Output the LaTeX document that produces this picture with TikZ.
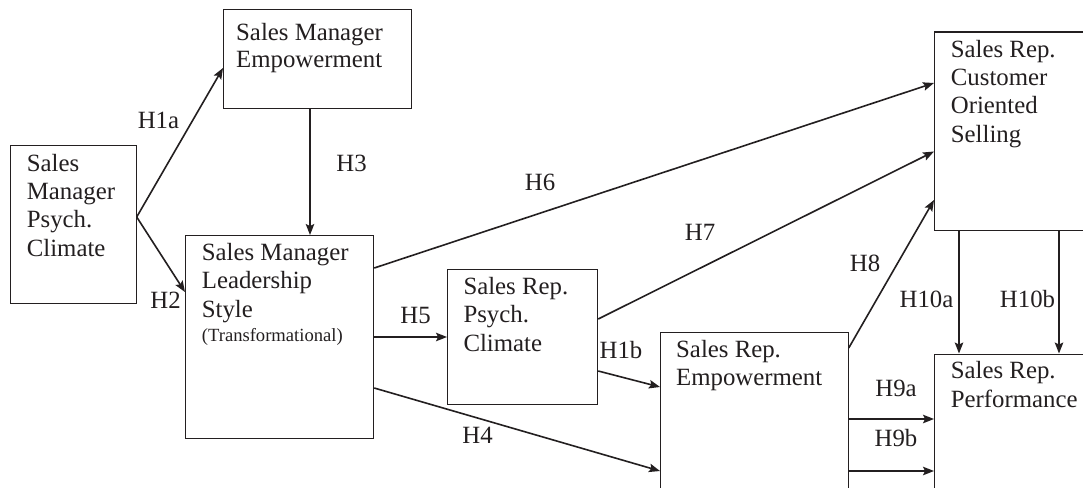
\documentclass[tikz,border=0pt]{standalone}
\usepackage{fontspec}
\setmainfont{Liberation Serif}
\usetikzlibrary{arrows.meta,calc}
\definecolor{ink}{HTML}{231F20}
\begin{document}
\begin{tikzpicture}[x=1pt,y=-1pt,
  box/.style={draw=ink, line width=1.2pt, anchor=north west, inner sep=0pt},
  txt/.style={anchor=north west, inner sep=0pt, align=left, text=ink,
              font=\fontsize{24.8}{28.3}\selectfont},
  lbl/.style={inner sep=0pt, text=ink, font=\fontsize{24.8}{28.3}\selectfont},
  arr/.style={draw=ink, line width=1.6pt, -{Stealth[length=11pt,width=8.5pt,inset=2pt]}}]
\useasboundingbox (0,0) rectangle (1083,487);
\clip (0,0) rectangle (1083,487);
\fill[white] (0,0) rectangle (1083,487);

% boxes
\node[box, minimum width=125.5pt, minimum height=157.5pt] (smpc) at (10,145) {};
\node[box, minimum width=188pt, minimum height=99pt] (sme) at (223,9) {};
\node[box, minimum width=188pt, minimum height=203pt] (smls) at (185,235) {};
\node[box, minimum width=150pt, minimum height=135pt] (srpc) at (447,269) {};
\node[box, minimum width=187.5pt, minimum height=220pt] (sre) at (660,332) {};
\node[box, minimum width=200pt, minimum height=198pt] (srcos) at (934,31.5) {};
\node[box, minimum width=200pt, minimum height=200pt] (srp) at (934,353.5) {};

% box texts
\node[txt] (smpc-t) at ($(smpc.north west)+(16.7,8.7)$) {Sales\\Manager\\Psych.\\Climate};
\node[txt, font=\fontsize{24.8}{27}\selectfont] (sme-t) at ($(sme.north west)+(13,14)$) {Sales Manager\\Empowerment};
\node[txt] (smls-t) at ($(smls.north west)+(16.7,8)$) {Sales Manager\\Leadership\\Style\\[-4.3pt]{\fontsize{18.6}{22}\selectfont (Transformational)}};
\node[txt] (srpc-t) at ($(srpc.north west)+(16.3,8)$) {Sales Rep.\\Psych.\\Climate};
\node[txt] (sre-t) at ($(sre.north west)+(16,7.7)$) {Sales Rep.\\Empowerment};
\node[txt] (srcos-t) at ($(srcos.north west)+(16.7,8.2)$) {Sales Rep.\\Customer\\Oriented\\Selling};
\node[txt] (srp-t) at ($(srp.north west)+(16.7,7.8)$) {Sales Rep.\\Performance};

% connectors
\draw[arr] ($(smpc.north east)+(0,72)$) -- ($(sme.north west)+(0,59)$);
\draw[arr] ($(smpc.north east)+(0,72)$) -- ($(smls.north west)+(0,57)$);
\draw[arr] ($(sme.south west)+(87,0)$) -- ($(smls.north west)+(125,0)$);
\draw[arr] ($(smls.north east)+(0,102)$) -- ($(srpc.north west)+(0,68)$);
\draw[arr] ($(smls.north east)+(0,33)$) -- ($(srcos.north west)+(0,51.5)$);
\draw[arr] ($(smls.north east)+(0,153)$) -- ($(sre.north west)+(0,139)$);
\draw[arr] ($(srpc.north east)+(0,50)$) -- ($(srcos.north west)+(0,120)$);
\draw[arr] ($(srpc.north east)+(0,102)$) -- ($(sre.north west)+(0,55)$);
\draw[arr] ($(sre.north east)+(0,16)$) -- ($(srcos.north west)+(0,168.5)$);
\draw[arr] ($(sre.north east)+(0,87)$) -- ($(srp.north west)+(0,65.5)$);
\draw[arr] ($(sre.north east)+(0,139)$) -- ($(srp.north west)+(0,117.5)$);
\draw[arr] ($(srcos.south west)+(25,0)$) -- ($(srp.north west)+(25,0)$);
\draw[arr] ($(srcos.south west)+(125,0)$) -- ($(srp.north west)+(125,0)$);

% labels
\node[lbl] (lH1a) at (158.5,120) {H1a};
\node[lbl] (lH2) at (165.5,300.5) {H2};
\node[lbl] (lH3) at (351.5,163.5) {H3};
\node[lbl] (lH5) at (415.5,315.5) {H5};
\node[lbl] (lH6) at (540,182) {H6};
\node[lbl] (lH7) at (700,232) {H7};
\node[lbl] (lH4) at (477.5,435) {H4};
\node[lbl] (lH1b) at (621,350) {H1b};
\node[lbl] (lH8) at (865,263) {H8};
\node[lbl] (lH9a) at (896,388.5) {H9a};
\node[lbl] (lH9b) at (896,438.5) {H9b};
\node[lbl] (lH10a) at (926.5,299) {H10a};
\node[lbl] (lH10b) at (1027.5,299) {H10b};
\end{tikzpicture}
\end{document}
